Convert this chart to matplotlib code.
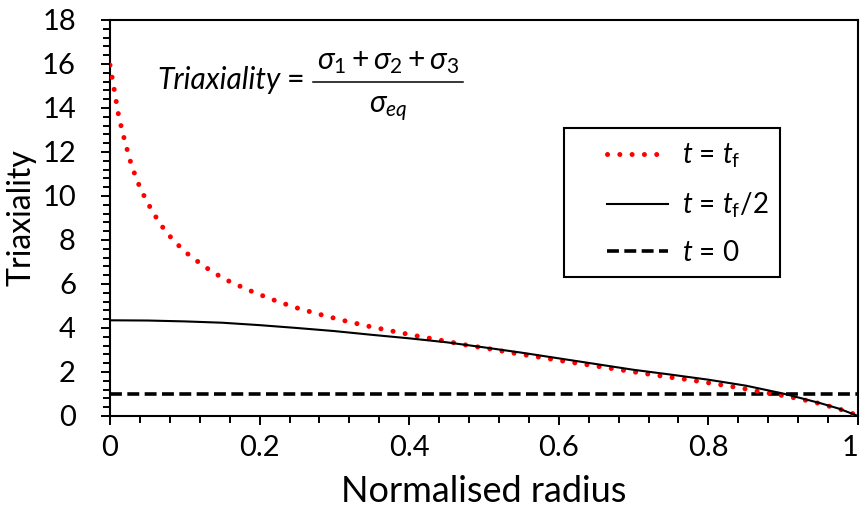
import matplotlib
matplotlib.use("Agg")
import matplotlib.pyplot as plt
from matplotlib.patches import Rectangle
from matplotlib.lines import Line2D
from matplotlib.ticker import MultipleLocator

plt.rcParams['font.family'] = ['Lato', 'DejaVu Sans']
plt.rcParams['mathtext.fontset'] = 'custom'
plt.rcParams['mathtext.rm'] = 'Lato'
plt.rcParams['mathtext.it'] = 'Lato:italic'
plt.rcParams['mathtext.bf'] = 'Lato:bold'

# ---- data ----
radius_tf = [0.0, 0.0063, 0.012, 0.020, 0.029, 0.041, 0.057, 0.075, 0.0985, 0.125,
             0.152, 0.184, 0.215, 0.246, 0.278, 0.311, 0.344, 0.377, 0.41, 0.4425,
             0.4755, 0.508, 0.541, 0.5745, 0.607, 0.640, 0.674, 0.707, 0.740, 0.773,
             0.807, 0.840, 0.873, 0.906, 0.939, 0.955, 0.971, 0.987, 1.0]
triax_tf = [15.95, 14.7, 13.56, 12.47, 11.36, 10.30, 9.27, 8.35, 7.51, 6.82,
            6.24, 5.74, 5.32, 4.95, 4.64, 4.35, 4.09, 3.86, 3.64, 3.44,
            3.23, 3.05, 2.85, 2.67, 2.49, 2.32, 2.14, 1.97, 1.80, 1.65,
            1.47, 1.29, 1.08, 0.89, 0.65, 0.51, 0.35, 0.20, 0.0]

radius_half = [0.0, 0.05, 0.1, 0.15, 0.2, 0.25, 0.3, 0.35, 0.4, 0.45, 0.5,
               0.55, 0.6, 0.65, 0.7, 0.75, 0.8, 0.85, 0.9, 0.95, 0.975, 1.0]
triax_half = [4.35, 4.34, 4.30, 4.24, 4.13, 4.00, 3.86, 3.69, 3.53, 3.35, 3.12,
              2.88, 2.62, 2.36, 2.10, 1.88, 1.65, 1.38, 1.02, 0.58, 0.33, 0.0]

radius_0 = [0.0, 1.0]
triax_0 = [1.0, 1.0]

labels = [r'$t$ = $t_{\mathrm{f}}$', r'$t$ = $t_{\mathrm{f}}$/2', r'$t$ = 0']
xticks = [0, 0.2, 0.4, 0.6, 0.8, 1]
xticklabels = ['0', '0.2', '0.4', '0.6', '0.8', '1']
yticks = list(range(0, 19, 2))

# ---- figure ----
W, H = 863, 513
fig = plt.figure(figsize=(W / 100, H / 100), dpi=100)
L, R, T, B = 110, 858, 20, 416
ax = fig.add_axes([L / W, 1 - B / H, (R - L) / W, (B - T) / H])

l1, = ax.plot(radius_tf, triax_tf, color='#ff0000', lw=3.6,
              linestyle=(0, (0.01, 2.45)), dash_capstyle='round', zorder=3)
l2, = ax.plot(radius_half, triax_half, color='black', lw=1.5, zorder=4)
l3, = ax.plot(radius_0, triax_0, color='black', lw=2.6,
              linestyle=(0, (3.3, 1.5)), zorder=2)

ax.set_xlim(0, 1)
ax.set_ylim(0, 18)
ax.set_xticks(xticks)
ax.set_xticklabels(xticklabels)
ax.set_yticks(yticks)
ax.xaxis.set_minor_locator(MultipleLocator(0.04))
ax.yaxis.set_minor_locator(MultipleLocator(0.4))
ax.tick_params(which='major', direction='out', length=6.5, width=1.4,
               labelsize=21, colors='black')
ax.tick_params(axis='y', which='major', pad=18)
ax.tick_params(axis='x', which='major', pad=7)
ax.tick_params(which='minor', direction='out', length=5, width=1.4)
ax.get_xticklabels()[-1].set_horizontalalignment('right')
for s in ax.spines.values():
    s.set_linewidth(1.5)
    s.set_color('black')

ax.set_xlabel('Normalised radius', fontsize=26)
ax.set_ylabel('Triaxiality', fontsize=23)
ax.xaxis.set_label_coords(0.5, -0.150)
ax.yaxis.set_label_coords(-0.098, 0.5)

# formula, laid out piece by piece
def fx(px):
    return px / W

def fy(py):
    return 1 - py / H

fig.text(fx(157), fy(89), 'Triaxiality', fontsize=21.5, fontstyle='italic',
         ha='left', va='baseline')
fig.text(fx(296), fy(89), '=', fontsize=22, ha='center', va='baseline')
fig.text(fx(388), fy(69), r'$\sigma_1 + \sigma_2 + \sigma_3$', fontsize=21.5,
         ha='center', va='baseline')
fig.text(fx(388), fy(113), r'$\sigma_{eq}$', fontsize=21.5,
         ha='center', va='baseline')
fig.add_artist(Line2D([fx(313), fx(463)], [fy(82), fy(82)],
                      transform=fig.transFigure, color='black', lw=1.1))

# legend with a separate box
bx0, by0, bx1, by1 = 564, 128, 780, 277
ax.add_patch(Rectangle(((bx0 - L) / (R - L), (B - by1) / (B - T)),
                       (bx1 - bx0) / (R - L), (by1 - by0) / (B - T),
                       transform=ax.transAxes, fill=True, facecolor='white',
                       edgecolor='black', lw=1.5, zorder=5, clip_on=False))
leg = ax.legend([l1, l2, l3], labels, loc='upper left',
                bbox_to_anchor=((607 - L) / (R - L), (B - 142) / (B - T)),
                frameon=False, fontsize=20, handlelength=2.2,
                handletextpad=0.5, labelspacing=0.72, borderpad=0,
                borderaxespad=0)
leg.set_zorder(6)

fig.savefig('out.png', dpi=100)
